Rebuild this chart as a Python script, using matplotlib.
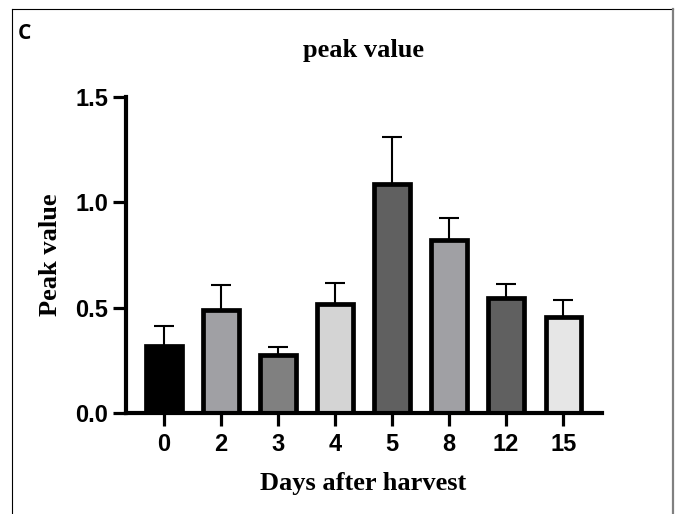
import numpy as np
import matplotlib
matplotlib.use('Agg')
import matplotlib.pyplot as plt
from matplotlib.lines import Line2D

# data
days = ['0', '2', '3', '4', '5', '8', '12', '15']
peak = [0.32, 0.49, 0.274, 0.516, 1.087, 0.822, 0.544, 0.456]
sd = [0.093, 0.117, 0.040, 0.102, 0.221, 0.102, 0.068, 0.079]
colors = ['#000000', '#a0a0a4', '#808080', '#d4d4d4',
          '#606060', '#a0a0a4', '#606060', '#e6e6e6']

fig = plt.figure(figsize=(6.76, 5.14), dpi=100)
ax = fig.add_axes([0.1864, 0.1965, 0.7041, 0.6148])

x = np.arange(len(days))
ax.errorbar(x, peak, yerr=[np.zeros(len(sd)), sd], fmt='none',
            ecolor='black', elinewidth=1.5, capsize=7, capthick=1.5, zorder=1)
ax.bar(x, peak, width=0.62, color=colors, edgecolor='black',
       linewidth=3.4, zorder=2)

ax.set_xlim(-0.665, 7.68)
ax.set_ylim(0, 1.5)
ax.set_yticks([0.0, 0.5, 1.0, 1.5])
ax.set_yticklabels(['0.0', '0.5', '1.0', '1.5'])
ax.set_xticks(x)
ax.set_xticklabels(days)

for s in ['top', 'right']:
    ax.spines[s].set_visible(False)
for s in ['left', 'bottom']:
    ax.spines[s].set_linewidth(3)
ax.tick_params(axis='both', length=9.4, width=2.3, labelsize=17)
ax.tick_params(axis='x', pad=5)
ax.tick_params(axis='y', pad=3.5)
for lab in ax.get_xticklabels() + ax.get_yticklabels():
    lab.set_fontfamily('Liberation Sans')
    lab.set_fontweight('bold')

serif = dict(family='Liberation Serif', weight='bold', size=19)
fig.text(0.537, 0.9027, 'peak value', ha='center', va='center', **serif)
fig.text(0.537, 0.0603, 'Days after harvest', ha='center', va='center', **serif)
fig.text(0.074, 0.504, 'Peak value', ha='center', va='center', rotation=90, **serif)
fig.text(0.0355, 0.934, 'C', ha='center', va='center',
         family=['Open Sans', 'DejaVu Sans'], weight='bold', size=15)

# panel frame
fig.add_artist(Line2D([12/676, 12/676], [0, 1 - 9/514], color='black', lw=0.8))
fig.add_artist(Line2D([12/676, 673/676], [1 - 9/514, 1 - 9/514], color='black', lw=0.8))
fig.add_artist(Line2D([673/676, 673/676], [0, 1 - 9/514], color='#808080', lw=1.6))

fig.savefig('out.png', dpi=100)
